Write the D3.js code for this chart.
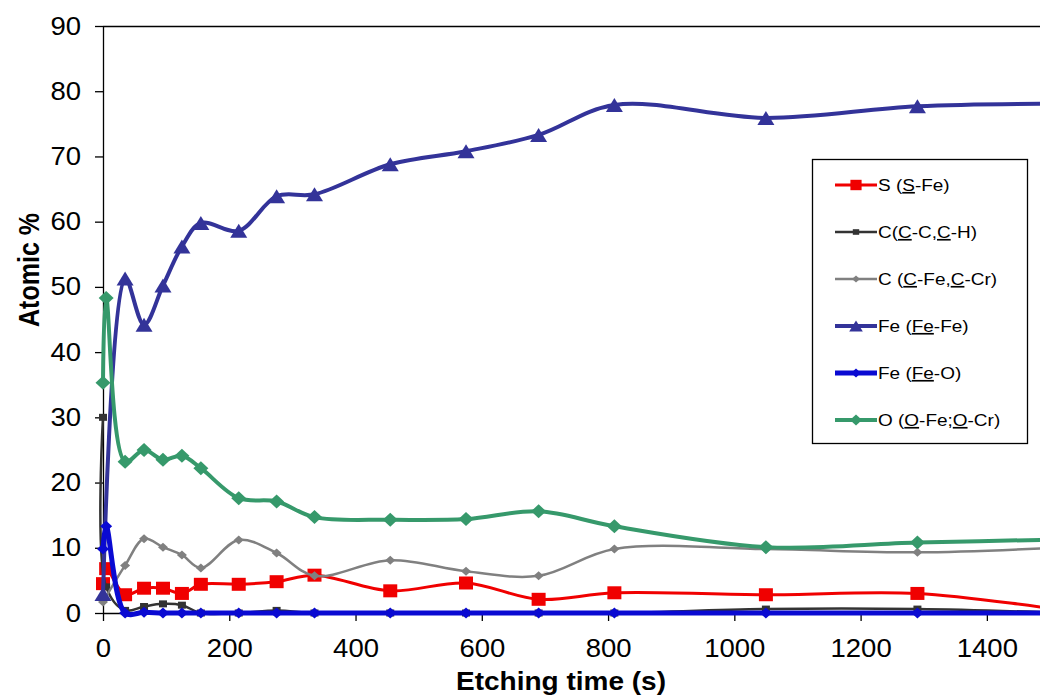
<!DOCTYPE html>
<html>
<head>
<meta charset="utf-8">
<script src="https://cdn.jsdelivr.net/npm/d3@7"></script>
<style>
  body { margin: 0; background: #fff; }
  svg { display: block; }
  text { font-family: "Liberation Sans", Arial, Helvetica, sans-serif; fill: #000; }
</style>
</head>
<body>
<svg id="chart" width="1040" height="698"></svg>
<script>
// Etching times (s) at which the XPS spectra were taken
const times = [0, 5, 35, 65, 95, 125, 155, 215, 275, 335, 455, 575, 690, 810, 1050, 1290, 1530];

// Atomic % per chemical state (null = no measurement shown)
const sulfurS  = [4.5, 6.8, 2.8, 3.8, 3.8, 3.0, 4.4, 4.4, 4.8, 5.8, 3.4, 4.6, 2.1, 3.1, 2.8, 3.0, 0.3];
const carbonCH = [30.0, 4.0, 0.4, 1.0, 1.4, 1.2, 0.0, 0.0, 0.4, 0.0, 0.0, 0.0, 0.0, 0.0, 0.6, 0.6, 0.0];
const carbonFe = [1.7, null, 7.3, 11.4, 10.1, 8.9, 6.9, 11.2, 9.2, 5.7, 8.1, 6.4, 5.7, 9.8, 9.8, 9.3, 10.1];
const ironFe   = [2.9, null, 51.3, 44.2, 50.2, 56.2, 59.8, 58.6, 63.9, 64.2, 68.8, 70.8, 73.3, 77.9, 75.9, 77.7, 78.1];
const ironO    = [9.8, 13.3, 0.0, 0.1, 0.0, 0.0, 0.0, 0.0, 0.0, 0.0, 0.0, 0.0, 0.0, 0.0, 0.0, 0.0, 0.0];
const oxygenO  = [35.3, 48.3, 23.2, 25.0, 23.5, 24.1, 22.2, 17.6, 17.1, 14.7, 14.3, 14.4, 15.6, 13.3, 10.1, 10.8, 11.3];

const xTicks = [0, 200, 400, 600, 800, 1000, 1200, 1400];
const yTicks = [0, 10, 20, 30, 40, 50, 60, 70, 80, 90];

// Legend labels: [text, underlined?] pieces
const labelS   = [["S (", false], ["S", true], ["-Fe)", false]];
const labelCC  = [["C(", false], ["C", true], ["-C,", false], ["C", true], ["-H)", false]];
const labelCFe = [["C (", false], ["C", true], ["-Fe,", false], ["C", true], ["-Cr)", false]];
const labelFeFe= [["Fe (", false], ["Fe", true], ["-Fe)", false]];
const labelFeO = [["Fe (", false], ["Fe", true], ["-O)", false]];
const labelO   = [["O (", false], ["O", true], ["-Fe;", false], ["O", true], ["-Cr)", false]];

const series = [
  { values: sulfurS,  label: labelS,    color: "#f00000", mfill: "#f00000", width: 3,   shape: "square",   mw: 14, mh: 13 },
  { values: carbonCH, label: labelCC,   color: "#333333", mfill: "#333333", width: 2.5, shape: "square",   mw: 8,  mh: 7 },
  { values: carbonFe, label: labelCFe,  color: "#808080", mfill: "#808080", width: 2.5, shape: "diamond",  mw: 10, mh: 9 },
  { values: ironFe,   label: labelFeFe, color: "#333399", mfill: "#333399", width: 4,   shape: "triangle", mw: 17, mh: 14 },
  { values: ironO,    label: labelFeO,  color: "#0a0ad2", mfill: "#0a0ad2", width: 5,   shape: "diamond",  mw: 12, mh: 11 },
  { values: oxygenO,  label: labelO,    color: "#36996b", mfill: "#36996b", width: 4,   shape: "diamond",  mw: 15, mh: 14 }
];

const SX = 1.1; // horizontal stretch of the lettering

const svg = d3.select("#chart");
const x = d3.scaleLinear().domain([0, 1500]).range([103, 1050]);
const y = d3.scaleLinear().domain([0, 90]).range([613, 26]);

function markerPath(shape, w, h) {
  const a = w / 2, b = h / 2;
  if (shape === "square") return `M${-a},${-b}H${a}V${b}H${-a}Z`;
  if (shape === "diamond") return `M0,${-b}L${a},0L0,${b}L${-a},0Z`;
  return `M0,${-b}L${a},${b}H${-a}Z`;
}

// plot frame (top edge)
svg.append("line")
  .attr("x1", 103).attr("x2", 1040).attr("y1", 26.5).attr("y2", 26.5)
  .attr("stroke", "#000").attr("stroke-width", 1.3);

// axes
const yAxis = svg.append("g")
  .attr("transform", "translate(103,0)")
  .call(d3.axisLeft(y).tickValues(yTicks).tickSize(8).tickSizeOuter(0).tickFormat(d3.format("d")));
yAxis.selectAll("text")
  .attr("x", -22 / SX).attr("transform", `scale(${SX},1)`)
  .style("font-size", "25px");

const xAxis = svg.append("g")
  .attr("transform", "translate(0,613)")
  .call(d3.axisBottom(x).tickValues(xTicks).tickSize(8).tickSizeOuter(0).tickFormat(d3.format("d")));
xAxis.selectAll("text")
  .attr("y", 26).attr("transform", `scale(${SX},1)`)
  .style("font-size", "25px");

[yAxis, xAxis].forEach(g => {
  g.select(".domain").attr("stroke", "#000").attr("stroke-width", 1.3);
  g.selectAll(".tick line").attr("stroke", "#000").attr("stroke-width", 1.3);
});

// axis titles
svg.append("text")
  .attr("transform", `translate(561,690) scale(1.12,1)`)
  .attr("text-anchor", "middle")
  .style("font-size", "25px").style("font-weight", "bold")
  .text("Etching time (s)");

svg.append("text")
  .attr("transform", `translate(39,270) scale(1.15,1) rotate(-90)`)
  .attr("text-anchor", "middle")
  .style("font-size", "25px").style("font-weight", "bold")
  .text("Atomic %");

// series
const plot = svg.append("g");
const line = d3.line()
  .x(d => x(d.t)).y(d => y(d.v))
  .curve(d3.curveCatmullRom.alpha(0.5));

series.forEach(s => {
  const pts = times.map((t, i) => ({ t, v: s.values[i] })).filter(d => d.v !== null);
  const g = plot.append("g");
  g.append("path")
    .attr("d", line(pts))
    .attr("fill", "none")
    .attr("stroke", s.color)
    .attr("stroke-width", s.width)
    .attr("stroke-linejoin", "round");
  g.selectAll("path.mk").data(pts).join("path")
    .attr("class", "mk")
    .attr("transform", d => `translate(${x(d.t)},${y(d.v)})`)
    .attr("d", markerPath(s.shape, s.mw, s.mh))
    .attr("fill", s.mfill);
});

// legend
const legend = svg.append("g");
legend.append("rect")
  .attr("x", 812.5).attr("y", 159.5).attr("width", 215).attr("height", 284)
  .attr("fill", "#fff").attr("stroke", "#000").attr("stroke-width", 1.3);

series.forEach((s, i) => {
  const cy = 185 + i * 47;
  const row = legend.append("g").attr("transform", `translate(0,${cy})`);
  row.append("line")
    .attr("x1", 835).attr("x2", 877).attr("y1", 0).attr("y2", 0)
    .attr("stroke", s.color).attr("stroke-width", s.width);
  row.append("path")
    .attr("transform", "translate(856,0)")
    .attr("d", markerPath(s.shape, s.mw * 0.8, s.mh * 0.8))
    .attr("fill", s.mfill);
  const txt = row.append("text")
    .attr("transform", `translate(878,6) scale(1.15,1)`)
    .style("font-size", "16.5px");
  s.label.forEach(([str, u]) => {
    const sp = txt.append("tspan").text(str);
    if (u) sp.style("text-decoration", "underline");
  });
});
</script>
</body>
</html>
